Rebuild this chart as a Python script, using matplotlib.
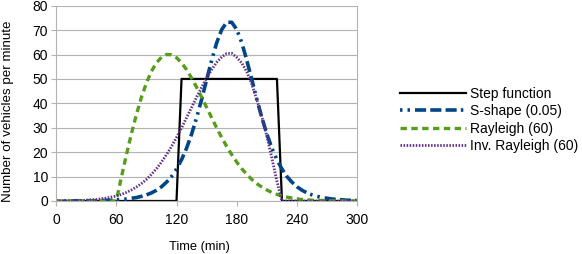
import matplotlib
matplotlib.use("Agg")
import matplotlib.pyplot as plt

plt.rcParams['font.family'] = ['Liberation Sans', 'DejaVu Sans']
plt.rcParams['lines.scale_dashes'] = False

time_min = list(range(0, 301, 5))

step_function = [0] * 25 + [50] * 20 + [0] * 16

s_shape = [0.0, 0.0, 0.0, 0.0, 0.1, 0.1, 0.1, 0.1, 0.1, 0.2,
           0.3, 0.3, 0.5, 0.6, 0.8, 1.1, 1.4, 1.9, 2.5, 3.3,
           4.4, 5.8, 7.7, 10.0, 13.1, 16.9, 21.6, 27.4, 34.1, 41.6,
           49.7, 57.6, 64.8, 70.2, 73.2, 73.2, 70.2, 64.8, 57.6, 49.7,
           41.6, 34.1, 27.4, 21.6, 16.9, 13.1, 10.0, 7.7, 5.8, 4.4,
           3.3, 2.5, 1.9, 1.4, 1.1, 0.8, 0.6, 0.5, 0.3, 0.3, 0.2]

rayleigh = [0, 0, 0, 0, 0, 0, 0, 0, 0, 0, 0, 0, 0,
            9.5, 18.7, 27.4, 35.3, 42.4, 48.3, 53.1, 56.6, 58.9, 60.0,
            59.9, 58.7, 56.6, 53.8, 50.4, 46.6, 42.5, 38.3, 34.1, 29.9,
            26.0, 22.3, 19.0, 15.9, 13.2, 10.9, 8.8, 7.1, 5.7, 4.5,
            3.5, 2.7, 2.0, 1.6, 1.2, 0.9, 0.6, 0.5, 0.3, 0.2,
            0.2, 0.1, 0.1, 0.1, 0, 0, 0, 0]

inv_rayleigh = [0, 0.1, 0.1, 0.1, 0.2, 0.2, 0.3, 0.5, 0.6, 0.9,
                1.2, 1.6, 2.0, 2.7, 3.5, 4.5, 5.7, 7.1, 8.8, 10.9,
                13.2, 15.9, 19.0, 22.3, 26.0, 29.9, 34.1, 38.3, 42.5, 46.6,
                50.4, 53.8, 56.8, 59.0, 60.4, 60.5, 58.8, 56.5, 52.9, 47.8,
                41.5, 34.5, 26.5, 17.5, 8.0, 0, 0, 0, 0, 0,
                0, 0, 0, 0, 0, 0, 0, 0, 0, 0, 0]

labels = ['Step function', 'S-shape (0.05)', 'Rayleigh (60)', 'Inv. Rayleigh (60)']
x_ticks = [0, 60, 120, 180, 240, 300]
y_ticks = [0, 10, 20, 30, 40, 50, 60, 70, 80]

grid_c = '#b3b3b3'

fig = plt.figure(figsize=(5.82, 2.54), dpi=100)
ax = fig.add_axes([0.0962, 0.2087, 0.5177, 0.7689])

ax.plot(time_min, step_function, color='black', lw=1.6, label=labels[0])
ax.plot(time_min, s_shape, color='#004586', lw=2.6,
        dashes=(1.8, 3.6, 1.8, 3.6, 8, 3, 8, 3, 8, 3), label=labels[1])
ax.plot(time_min, rayleigh, color='#579d1c', lw=2.4,
        dashes=(4.6, 3.2), label=labels[2])
ax.plot(time_min, inv_rayleigh, color='#5f2f8a', lw=2.0,
        dashes=(1.1, 1.1), label=labels[3])

ax.set_xlim(0, 300)
ax.set_ylim(0, 80)
ax.set_xticks(x_ticks)
ax.set_yticks(y_ticks)
ax.grid(axis='y', color=grid_c, lw=0.8)
ax.set_axisbelow(True)
for side in ['left', 'bottom', 'right']:
    ax.spines[side].set_color(grid_c)
    ax.spines[side].set_linewidth(0.8)
ax.spines['top'].set_visible(False)
ax.tick_params(axis='both', colors=grid_c, length=3.6, width=0.8,
               labelcolor='black', labelsize=10)
ax.tick_params(axis='y', pad=2)
ax.tick_params(axis='x', pad=5)

ax.set_xlabel('Time (min)', fontsize=9.3, va='center')
ax.xaxis.set_label_coords(0.477, -0.234)
ax.set_ylabel('Number of vehicles per minute', fontsize=9.6, va='center')
ax.yaxis.set_label_coords(-0.159, 0.457)

fig.legend(loc='center left', bbox_to_anchor=(0.687, 0.528), frameon=False,
           fontsize=10, handlelength=4.75, handletextpad=0.3,
           labelspacing=0.25, borderpad=0, borderaxespad=0)

fig.savefig('out.png', dpi=100)
